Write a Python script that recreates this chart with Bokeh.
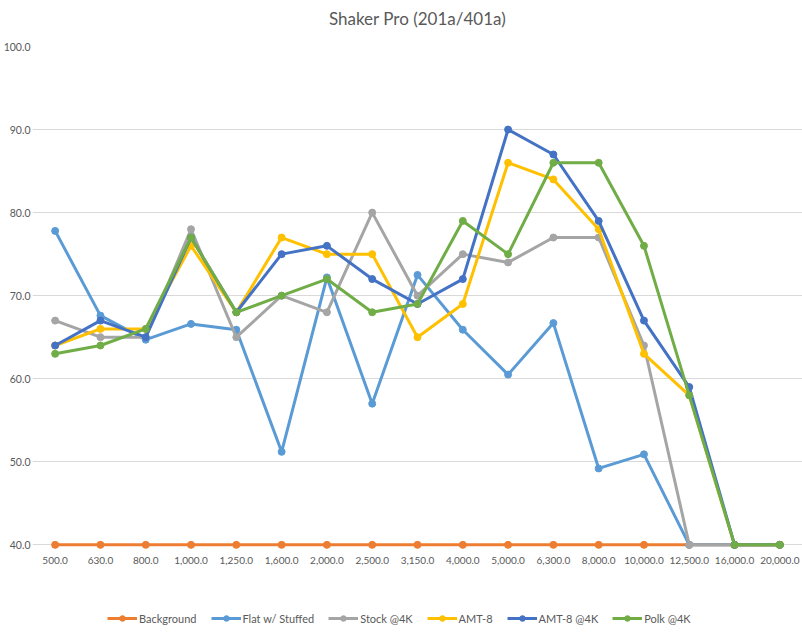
from bokeh.plotting import figure
from bokeh.layouts import column
from bokeh.models import FactorRange, Range1d, Legend, LegendItem, PrintfTickFormatter, FixedTicker
from bokeh.embed import file_html
from bokeh.resources import INLINE

freq_labels = ["500.0", "630.0", "800.0", "1,000.0", "1,250.0", "1,600.0", "2,000.0", "2,500.0",
               "3,150.0", "4,000.0", "5,000.0", "6,300.0", "8,000.0", "10,000.0", "12,500.0",
               "16,000.0", "20,000.0"]

background = [40, 40, 40, 40, 40, 40, 40, 40, 40, 40, 40, 40, 40, 40, 40, 40, 40]
flat_stuffed = [77.8, 67.6, 64.7, 66.6, 65.9, 51.2, 72.2, 57.0, 72.5, 65.9, 60.5, 66.7, 49.2, 50.9, 40, 40, 40]
stock_4k = [67, 65, 65, 78, 65, 70, 68, 80, 70, 75, 74, 77, 77, 64, 40, 40, 40]
amt8 = [64, 66, 66, 76, 68, 77, 75, 75, 65, 69, 86, 84, 78, 63, 58, 40, 40]
amt8_4k = [64, 67, 65, 77, 68, 75, 76, 72, 69, 72, 90, 87, 79, 67, 59, 40, 40]
polk_4k = [63, 64, 66, 77, 68, 70, 72, 68, 69, 79, 75, 86, 86, 76, 58, 40, 40]

series_names = ["Background", "Flat w/ Stuffed", "Stock @4K", "AMT-8", "AMT-8 @4K", "Polk @4K"]
series_values = [background, flat_stuffed, stock_4k, amt8, amt8_4k, polk_4k]
series_colors = ["#ED7D31", "#5B9BD5", "#A5A5A5", "#FFC000", "#4472C4", "#70AD47"]

y_ticks = [40, 50, 60, 70, 80, 90, 100]
chart_title = "Shaker Pro (201a/401a)"

FONT = "Lato"
TXT = "#595959"
W = 802


def bare(fig):
    fig.outline_line_color = None
    fig.grid.visible = False
    return fig


# title strip, centred over the full width
tf = bare(figure(width=W, height=40, x_range=Range1d(0, 1), y_range=Range1d(0, 1),
                 output_backend="svg", toolbar_location=None, title=chart_title,
                 x_axis_location=None, y_axis_location=None,
                 min_border_top=31, min_border_bottom=0, min_border_left=0, min_border_right=0))
tf.title.align = "center"
tf.title.text_font = FONT
tf.title.text_font_size = "17px"
tf.title.text_font_style = "normal"
tf.title.text_color = TXT
tf.title.standoff = 6

# main chart
p = figure(width=W, height=560, x_range=FactorRange(factors=freq_labels, range_padding=0),
           y_range=Range1d(39.2, 100), output_backend="svg", toolbar_location=None,
           min_border_top=6, min_border_left=0, min_border_right=0, min_border_bottom=49)
p.outline_line_color = None
p.xgrid.grid_line_color = None
p.ygrid.grid_line_color = "#D9D9D9"
p.ygrid.grid_line_width = 1
p.yaxis.ticker = FixedTicker(ticks=y_ticks)
p.yaxis.formatter = PrintfTickFormatter(format="%.1f")

for ax in (p.xaxis, p.yaxis):
    ax.axis_line_color = None
    ax.major_tick_line_color = None
    ax.minor_tick_line_color = None
    ax.major_tick_out = 0
    ax.major_tick_in = 0
    ax.major_label_text_font = FONT
    ax.major_label_text_font_size = "10.5px"
    ax.major_label_text_color = TXT
p.yaxis.major_label_standoff = 2
p.xaxis.major_label_standoff = 5
p.xaxis.major_label_text_font_size = "10px"

# legend strip beneath the chart, with matching glyph styles
lg = bare(figure(width=W, height=36, x_range=Range1d(0, 1), y_range=Range1d(0, 1),
                 output_backend="svg", toolbar_location=None,
                 x_axis_location=None, y_axis_location=None,
                 min_border_top=0, min_border_bottom=0, min_border_left=0, min_border_right=0))

items = []
for name, vals, col in zip(series_names, series_values, series_colors):
    p.line(freq_labels, vals, line_color=col, line_width=3)
    p.scatter(freq_labels, vals, marker="circle", size=7, fill_color=col, line_color=col)
    # proxy glyphs sit outside the strip's visible range; they only feed the legend swatches
    l1 = lg.line([5, 6], [5, 5], line_color=col, line_width=3)
    l2 = lg.scatter([5], [5], marker="circle", size=7, fill_color=col, line_color=col)
    items.append(LegendItem(label=name, renderers=[l1, l2]))

legend = Legend(items=items, orientation="horizontal", location=(75, 11),
                label_text_font=FONT, label_text_font_size="11px", label_text_color=TXT,
                glyph_width=30, glyph_height=14, label_standoff=2, spacing=14,
                padding=0, margin=0, border_line_color=None, background_fill_alpha=0)
lg.add_layout(legend, "center")

layout = column(tf, p, lg, spacing=0)
open("out.html", "w").write(file_html(layout, INLINE))
